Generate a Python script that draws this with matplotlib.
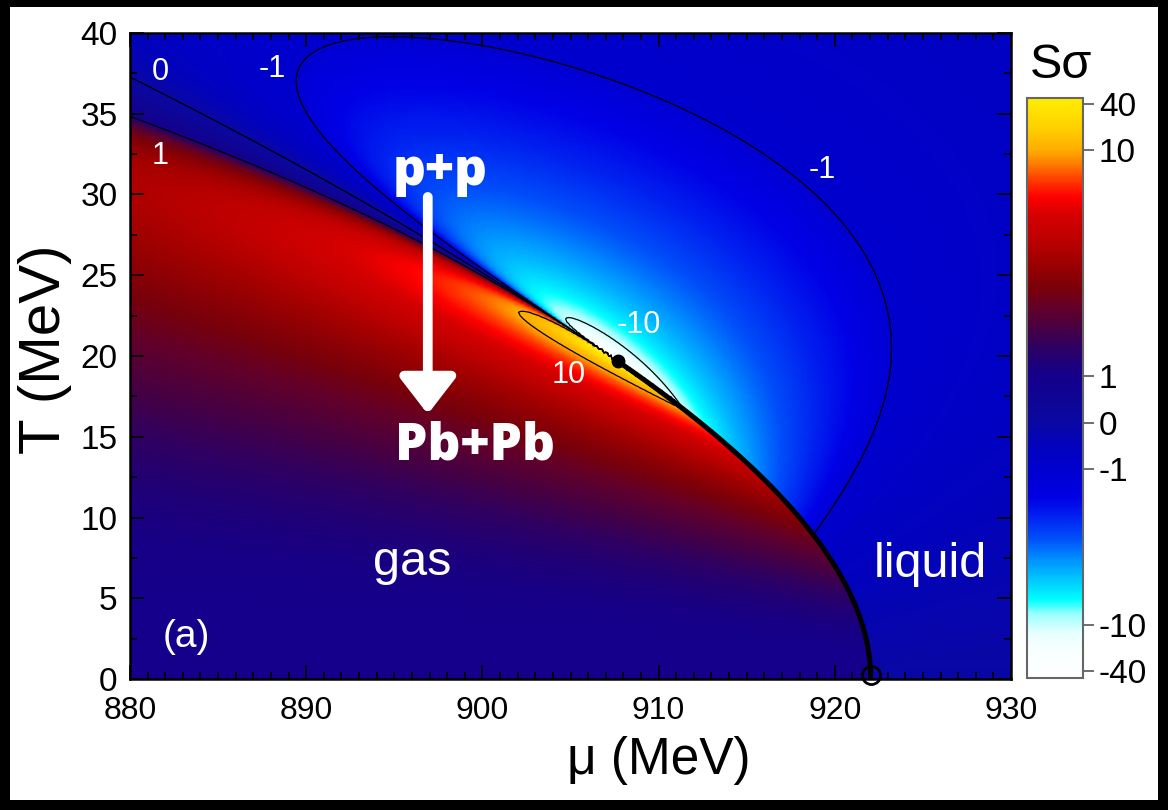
import numpy as np
import matplotlib
matplotlib.use("Agg")
import matplotlib.pyplot as plt
from matplotlib.colors import LinearSegmentedColormap, FuncNorm
from matplotlib.patches import Rectangle
from matplotlib.ticker import MultipleLocator

plt.rcParams['font.family'] = ['Liberation Sans', 'DejaVu Sans']

# quantum van der Waals model of symmetric nuclear matter
HBARC = 197.327     # MeV fm
M_N = 938.0         # nucleon mass, MeV
G_N = 4             # spin-isospin degeneracy
A_VDW = 329.0       # attraction, MeV fm^3
B_VDW = 3.42        # excluded volume, fm^3

mu_axis = np.linspace(880.0, 930.0, 501)
T_axis = np.arange(0.1, 40.0, 0.2)
mustar = np.linspace(870.0, 1030.0, 1200)

contour_levels = [-10, -1, 0, 1, 10]
cbar_ticks = [-40, -10, -1, 0, 1, 10, 40]
cbar_pos = [0.012, 0.091, 0.360, 0.440, 0.521, 0.910, 0.990]

cmap_stops = [
    (0.000, (1.00, 1.00, 1.00)), (0.050, (0.97, 1.00, 1.00)),
    (0.078, (0.90, 1.00, 1.00)), (0.110, (0.60, 1.00, 1.00)),
    (0.134, (0.00, 1.00, 1.00)), (0.157, (0.00, 0.86, 1.00)),
    (0.200, (0.00, 0.59, 1.00)), (0.240, (0.00, 0.31, 0.98)),
    (0.280, (0.00, 0.12, 0.94)), (0.310, (0.00, 0.00, 0.90)),
    (0.360, (0.00, 0.00, 0.81)), (0.400, (0.01, 0.01, 0.74)),
    (0.440, (0.04, 0.03, 0.64)), (0.480, (0.06, 0.02, 0.58)),
    (0.520, (0.08, 0.00, 0.55)),
    (0.545, (0.12, 0.00, 0.47)), (0.570, (0.18, 0.00, 0.39)),
    (0.600, (0.27, 0.00, 0.27)), (0.640, (0.39, 0.00, 0.16)),
    (0.670, (0.47, 0.00, 0.04)), (0.720, (0.63, 0.00, 0.00)),
    (0.760, (0.75, 0.00, 0.00)), (0.800, (0.84, 0.00, 0.00)),
    (0.830, (1.00, 0.00, 0.00)), (0.860, (1.00, 0.24, 0.00)),
    (0.890, (1.00, 0.51, 0.00)), (0.910, (1.00, 0.67, 0.00)),
    (0.950, (1.00, 0.82, 0.00)), (1.000, (1.00, 0.93, 0.00)),
]


def qvdw_row(T):
    # ideal Fermi gas integrals on a mu* grid, then vdW mapping to (mu, n, p)
    kmax = np.sqrt((mustar[-1] + 45 * T) ** 2 - M_N ** 2)
    k = np.linspace(0.0, kmax, 1500)
    w = np.full_like(k, k[1] - k[0])
    w[0] *= 0.5
    w[-1] *= 0.5
    E = np.sqrt(k ** 2 + M_N ** 2)
    x = (E[None, :] - mustar[:, None]) / T
    e = np.exp(-np.abs(x))
    f = np.where(x > 0, e / (1 + e), 1 / (1 + e))
    ff = e / (1 + e) ** 2
    th = np.sign(x) * (1 - e) / (1 + e)
    c = G_N / (2 * np.pi ** 2) / HBARC ** 3
    k2w = k ** 2 * w
    nid = c * (f @ k2w)
    nid1 = c * (ff @ k2w) / T
    nid2 = c * ((ff * th) @ k2w) / T ** 2
    pid = c / 3 * (f @ (k ** 4 / E * w))

    D = 1 + B_VDW * nid
    n = nid / D
    n1 = nid1 / D ** 2
    n2 = nid2 / D ** 2 - 2 * B_VDW * nid1 ** 2 / D ** 3
    mu = mustar + B_VDW * pid - 2 * A_VDW * n
    mu1 = 1 + B_VDW * nid - 2 * A_VDW * n1
    mu2 = B_VDW * nid1 - 2 * A_VDW * n2
    p = pid - A_VDW * n ** 2
    with np.errstate(divide='ignore', invalid='ignore'):
        S = T * (n2 * mu1 - n1 * mu2) / (mu1 ** 2 * n1)
    S = np.nan_to_num(S, nan=1.0, posinf=1e4, neginf=-1e4)
    return mu, mu1, p, S


def sigma_row(T):
    mu, mu1, p, S = qvdw_row(T)
    if mu1.min() > 0:
        return np.interp(mu_axis, mu, S), None
    neg = np.where(mu1 <= 0)[0]
    ig, il = neg[0], neg[-1] + 1
    mu_g, p_g, S_g = mu[:ig], p[:ig], S[:ig]
    mu_l, p_l, S_l = mu[il:], p[il:], S[il:]
    mm = np.linspace(mu_l[0], mu_g[-1], 4000)
    dp = np.interp(mm, mu_g, p_g) - np.interp(mm, mu_l, p_l)
    j = np.where(np.diff(np.sign(dp)) != 0)[0][0]
    mu_pb = mm[j] - dp[j] * (mm[j + 1] - mm[j]) / (dp[j + 1] - dp[j])
    row = np.where(mu_axis < mu_pb,
                   np.interp(mu_axis, mu_g, S_g),
                   np.interp(mu_axis, mu_l, S_l))
    return row, mu_pb


# critical point by bisection on the spinodal condition
t_lo, t_hi = 18.5, 21.0
for _ in range(25):
    t_mid = 0.5 * (t_lo + t_hi)
    if qvdw_row(t_mid)[1].min() > 0:
        t_hi = t_mid
    else:
        t_lo = t_mid
T_c = 0.5 * (t_lo + t_hi)
_mu, _mu1, _, _ = qvdw_row(T_c)
mu_c = _mu[np.argmin(_mu1)]

rows = []
pb_T, pb_mu = [], []
for T in T_axis:
    row, mu_pb = sigma_row(max(T, 0.5))
    rows.append(row)
    if mu_pb is not None and T >= 0.5:
        pb_T.append(T)
        pb_mu.append(mu_pb)
field = np.array(rows)

pb_T = [0.0] + pb_T + [T_c]
pb_mu = [pb_mu[0]] + pb_mu + [mu_c]

# colour scale: linear in |S|<1, stretched log between 1 and 10, log beyond
GAMMA = 0.6


def to_u(v):
    v = np.asarray(v, dtype=float)
    a = np.abs(v)
    with np.errstate(divide='ignore', invalid='ignore'):
        mid = 1 + np.log10(np.clip(a, 1, 10)) ** GAMMA
        hi = 2 + np.log10(np.maximum(a, 10) / 10) / np.log10(4)
    u = np.where(a <= 1, a, np.where(a <= 10, mid, hi))
    return np.sign(v) * u


def from_u(u):
    u = np.asarray(u, dtype=float)
    a = np.abs(u)
    mid = 10 ** (np.clip(a - 1, 0, 1) ** (1 / GAMMA))
    hi = 10 * 4 ** (np.maximum(a, 2) - 2)
    v = np.where(a <= 1, a, np.where(a <= 2, mid, hi))
    return np.sign(u) * v


u_knots = [-3.15] + [float(t) for t in to_u(cbar_ticks)] + [3.13]
s_knots = [0.0] + cbar_pos + [1.0]
v_lo, v_hi = float(from_u(-3.15)), float(from_u(3.13))
norm = FuncNorm((lambda v: np.interp(to_u(v), u_knots, s_knots),
                 lambda s: from_u(np.interp(s, s_knots, u_knots))),
                vmin=v_lo, vmax=v_hi)
cmap = LinearSegmentedColormap.from_list('skew', cmap_stops, N=512)

fig = plt.figure(figsize=(11.68, 8.10), dpi=100)
fig.patch.set_facecolor('black')
fig.patches.append(Rectangle((10 / 1168, 10 / 810), 1148 / 1168, 793 / 810,
                             transform=fig.transFigure, facecolor='white',
                             edgecolor='none', zorder=-10))

ax = fig.add_axes([130 / 1168, 131 / 810, 881 / 1168, 646 / 810])
im = ax.imshow(field, origin='lower', aspect='auto', cmap=cmap, norm=norm,
               extent=[879.95, 930.05, 0.0, 40.0], interpolation='bilinear',
               interpolation_stage='rgba')
keep = T_axis > 2.5
ax.contour(mu_axis, T_axis[keep], field[keep], levels=contour_levels,
           colors='k', linewidths=0.9, linestyles='solid')
ax.plot(pb_mu, pb_T, color='k', lw=3.6, solid_capstyle='round', zorder=5)
ax.plot(mu_c, T_c, 'o', color='k', ms=9, zorder=6)
ax.plot(pb_mu[0], 0.25, 'o', mfc='none', mec='k', mew=2, ms=13, zorder=6,
        clip_on=False)

ax.set_xlim(880, 930)
ax.set_ylim(0, 40)
ax.xaxis.set_major_locator(MultipleLocator(10))
ax.xaxis.set_minor_locator(MultipleLocator(1))
ax.yaxis.set_major_locator(MultipleLocator(5))
ax.yaxis.set_minor_locator(MultipleLocator(2.5))
ax.tick_params(which='both', direction='in', top=True, right=True, width=1.2)
ax.tick_params(which='major', length=10)
ax.tick_params(which='minor', length=5)
ax.tick_params(axis='x', labelsize=23, pad=12)
ax.tick_params(axis='y', labelsize=24, pad=9)
for sp in ax.spines.values():
    sp.set_linewidth(1.8)
ax.set_xlabel('μ (MeV)', fontsize=37)
ax.xaxis.set_label_coords(0.60, -0.088)
ax.set_ylabel('T (MeV)', fontsize=42, va='center')
ax.yaxis.set_label_coords(-0.097, 0.51)

# contour values and region names
lab = dict(color='white', fontsize=22, ha='center', va='center')
ax.text(881.7, 37.6, '0', **lab)
ax.text(888.1, 37.8, '-1', **lab)
ax.text(881.7, 32.4, '1', **lab)
ax.text(919.3, 31.5, '-1', **lab)
ax.text(908.9, 21.9, '-10', **lab)
ax.text(904.9, 18.8, '10', **lab)
ax.text(896.0, 7.2, 'gas', color='white', fontsize=35, ha='center', va='center')
ax.text(925.4, 7.1, 'liquid', color='white', fontsize=35, ha='center', va='center')
ax.text(883.2, 2.6, '(a)', color='white', fontsize=28, ha='center', va='center')

# collision systems
ax.annotate('', xy=(896.9, 16.4), xytext=(896.9, 29.85),
            arrowprops=dict(arrowstyle='-|>,head_length=22,head_width=17',
                            mutation_scale=1, lw=7, color='white',
                            shrinkA=0, shrinkB=0))
bold = dict(color='white', fontsize=37, fontweight='heavy', ha='center',
            va='center', family='Open Sans')
ax.text(897.6, 31.4, 'p+p', **bold)
ax.text(899.6, 14.4, 'Pb+Pb', **bold)

cax = fig.add_axes([1027 / 1168, 132 / 810, 56 / 1168, 580 / 810])
cb = fig.colorbar(im, cax=cax)
cb.set_ticks(cbar_ticks)
cb.set_ticklabels([str(t) for t in cbar_ticks])
cb.ax.tick_params(labelsize=24, length=8, width=1.2, direction='out',
                  color='#555555')
cb.ax.minorticks_off()
cb.outline.set_edgecolor('#666666')
cb.outline.set_linewidth(1.5)
fig.text(1061 / 1168, 1 - 66 / 810, 'Sσ', fontsize=35, ha='center', va='center')

fig.savefig('out.png', dpi=100, facecolor=fig.get_facecolor())
